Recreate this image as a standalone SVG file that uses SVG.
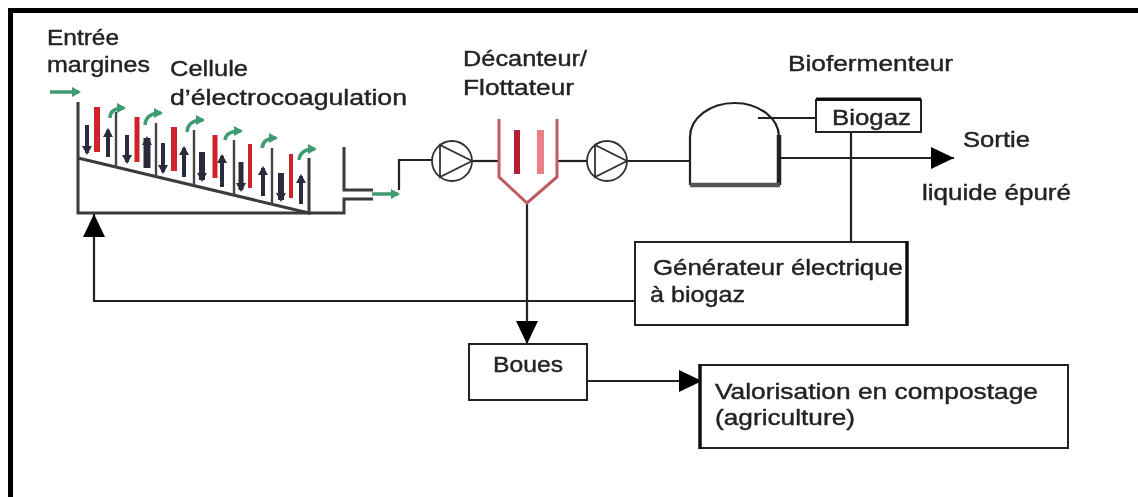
<svg xmlns="http://www.w3.org/2000/svg" width="1138" height="497" viewBox="0 0 1138 497">
<style>
.t{font-family:"Liberation Sans",Arial,sans-serif;font-size:22px;fill:#222;stroke:#222;stroke-width:.4px}
.box{fill:#fff;stroke:#222;stroke-width:2}
.ln{fill:none;stroke:#222;stroke-width:2.2}
.wall{fill:none;stroke:#3a3a3a;stroke-width:3}
.baf{stroke:#444;stroke-width:2.4}
.red{fill:#d0202c}
.dec{fill:none;stroke:#c05a64;stroke-width:3}
.gr{fill:none;stroke:#3f9a72;stroke-width:3.500}
.ar{fill:none;stroke:#2a2a3c;stroke-width:4}
.pump{fill:#fff;stroke:#333;stroke-width:1.8}
</style>
<defs>
<filter id="soft" x="0" y="0" width="100%" height="100%"><feGaussianBlur stdDeviation="0.45"/></filter>
<marker id="big" markerUnits="userSpaceOnUse" markerWidth="24" markerHeight="24" refX="23" refY="12" orient="auto"><path d="M0 1 L23 12 L0 23Z" fill="#000"/></marker>
<marker id="green" markerUnits="userSpaceOnUse" markerWidth="10" markerHeight="12" refX="7" refY="6" orient="auto"><path d="M0 1 L9 6 L0 11Z" fill="#3f9a72"/></marker>
<marker id="dark" markerUnits="userSpaceOnUse" markerWidth="10" markerHeight="12" refX="7" refY="6" orient="auto"><path d="M0 1 L9 6 L0 11Z" fill="#2a2a3c"/></marker>
</defs>
<rect width="1138" height="497" fill="#fff"/>
<g filter="url(#soft)">
<path d="M8 8H1138V13H13V497H8Z" fill="#000"/>
<g id="connectors">
<path class="ln" d="M399 190V160H432"/>
<path class="ln" d="M472 161H500"/>
<path class="ln" d="M557 161H587"/>
<path class="ln" d="M627 161H690"/>
<path class="ln" d="M758 118H816"/>
<path class="ln" d="M779 158H954" marker-end="url(#big)"/>
<path class="ln" d="M851 132V242"/>
<path class="ln" d="M527 203V344" marker-end="url(#big)"/>
<path class="ln" d="M634 301H94V214" marker-end="url(#big)"/>
<path class="ln" d="M587 381H702" marker-end="url(#big)"/>
<path class="gr" d="M50 92H79" marker-end="url(#green)"/>
<path class="gr" d="M372 194H398" marker-end="url(#green)"/>
</g>
<g id="cellule">
<path class="wall" d="M78 102V213H344V199H373M373 190H344V147"/>
<path class="wall" d="M78 158L309 213V158"/>
<g class="baf"><path d="M116 112V167M156 123V177M194 130V185M234 140V195M272 148V205"/></g>
<rect class="red" x="94" y="107" width="6" height="45"/>
<rect class="red" x="134.500" y="117" width="5" height="45"/>
<rect class="red" x="171" y="127" width="6" height="44"/>
<rect class="red" x="212.500" y="135" width="5" height="43"/>
<rect class="red" x="248" y="144" width="4" height="44"/>
<rect class="red" x="289" y="154" width="4" height="44"/>
<path class="ar" d="M87 125V153" marker-end="url(#dark)"/>
<path class="ar" d="M108 157V130" marker-end="url(#dark)"/>
<path class="ar" d="M127 135V162" marker-end="url(#dark)"/>
<path class="ar" style="stroke-width:7" d="M147 168V138" marker-end="url(#dark)"/>
<path class="ar" d="M163 143V172" marker-end="url(#dark)"/>
<path class="ar" d="M184 177V148" marker-end="url(#dark)"/>
<path class="ar" style="stroke-width:6" d="M202 152V180" marker-end="url(#dark)"/>
<path class="ar" d="M222 187V156" marker-end="url(#dark)"/>
<path class="ar" style="stroke-width:5" d="M241 162V190" marker-end="url(#dark)"/>
<path class="ar" d="M263 196V168" marker-end="url(#dark)"/>
<path class="ar" style="stroke-width:6" d="M281 173V200" marker-end="url(#dark)"/>
<path class="ar" d="M301 204V176" marker-end="url(#dark)"/>
<path class="gr" d="M110 118Q110 108 124 108" marker-end="url(#green)"/>
<path class="gr" d="M145 125Q146 113 161 113" marker-end="url(#green)"/>
<path class="gr" d="M187 132Q188 120 203 120" marker-end="url(#green)"/>
<path class="gr" d="M225 140Q226 131 241 131" marker-end="url(#green)"/>
<path class="gr" d="M262 148Q263 138 276 138" marker-end="url(#green)"/>
<path class="gr" d="M299 160Q300 149 315 149" marker-end="url(#green)"/>
<text class="t" x="47" y="45" textLength="72" lengthAdjust="spacingAndGlyphs">Entrée</text>
<text class="t" x="47" y="72" textLength="103" lengthAdjust="spacingAndGlyphs">margines</text>
<text class="t" x="170" y="76" textLength="78" lengthAdjust="spacingAndGlyphs">Cellule</text>
<text class="t" x="170" y="105" textLength="237" lengthAdjust="spacingAndGlyphs">d’électrocoagulation</text>
</g>
<g id="pompe1">
<circle class="pump" cx="452" cy="161" r="20"/>
<path class="pump" style="fill:none" d="M440 145V177L472 161Z"/>
</g>
<g id="decanteur">
<path class="dec" d="M499 119V177L527 203L557 177V119"/>
<rect x="514" y="130" width="6" height="44" fill="#b81c30"/>
<rect x="537" y="130" width="7" height="44" fill="#e88088"/>
<text class="t" x="463" y="66" textLength="124" lengthAdjust="spacingAndGlyphs">Décanteur/</text>
<text class="t" x="463" y="95" textLength="111" lengthAdjust="spacingAndGlyphs">Flottateur</text>
</g>
<g id="pompe2">
<circle class="pump" cx="607" cy="161" r="20"/>
<path class="pump" style="fill:none" d="M595 145V177L627 161Z"/>
</g>
<g id="biofermenteur">
<path d="M690 185V137A44.500 34 0 0 1 779 137" fill="none" stroke="#222" stroke-width="2.200"/>
<path d="M779 135V185" stroke="#222" stroke-width="4.500" fill="none"/>
<path d="M690 185H780" stroke="#555" stroke-width="4.500" fill="none"/>
<text class="t" x="788" y="71" textLength="165" lengthAdjust="spacingAndGlyphs">Biofermenteur</text>
</g>
<g id="biogaz">
<rect class="box" x="816" y="100" width="105" height="32"/>
<path d="M816 99H921" stroke="#111" stroke-width="3"/>
<text class="t" x="832" y="125" textLength="79" lengthAdjust="spacingAndGlyphs">Biogaz</text>
</g>
<g id="sortie">
<text class="t" x="963" y="147" textLength="67" lengthAdjust="spacingAndGlyphs">Sortie</text>
<text class="t" x="922" y="200" textLength="149" lengthAdjust="spacingAndGlyphs">liquide épuré</text>
</g>
<g id="generateur">
<rect class="box" x="635" y="242" width="272" height="83"/>
<path d="M907 241V326" stroke="#111" stroke-width="3.500"/>
<text class="t" x="653" y="275" textLength="250" lengthAdjust="spacingAndGlyphs">Générateur électrique</text>
<text class="t" x="650" y="302" textLength="95" lengthAdjust="spacingAndGlyphs">à biogaz</text>
</g>
<g id="boues">
<rect class="box" x="469" y="344" width="118" height="56"/>
<text class="t" x="493" y="372" textLength="70" lengthAdjust="spacingAndGlyphs">Boues</text>
</g>
<g id="valorisation">
<rect class="box" x="700" y="365" width="368" height="83"/>
<path d="M700 364V449" stroke="#111" stroke-width="3.500"/>
<text class="t" x="715" y="399" textLength="323" lengthAdjust="spacingAndGlyphs">Valorisation en compostage</text>
<text class="t" x="715" y="425" textLength="140" lengthAdjust="spacingAndGlyphs">(agriculture)</text>
</g>
</g>
</svg>
